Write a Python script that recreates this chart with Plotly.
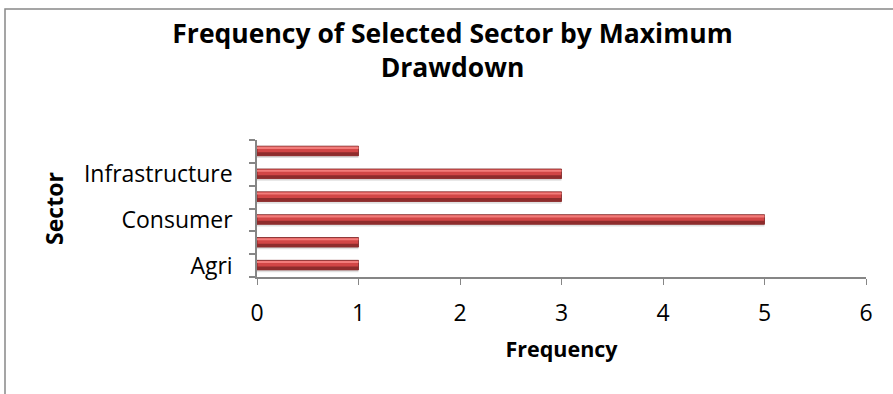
import plotly.graph_objects as go

# Data
sector_positions = [0, 1, 2, 3, 4, 5]
frequency = [1, 1, 5, 3, 3, 1]
label_positions = [0, 2, 4]
label_text = ["Agri", "Consumer", "Infrastructure"]
x_ticks = [0, 1, 2, 3, 4, 5, 6]

W, H = 893, 394
L, R, T, B = 257, 27, 140, 117
pw, ph = W - L - R, H - T - B

def px_x(p):
    return (p - L) / pw

def px_y(p):
    return (H - B - p) / ph

fig = go.Figure()
# shadow
fig.add_trace(go.Bar(y=sector_positions, x=frequency, orientation="h",
                     width=0.42, offset=-0.29, marker=dict(color="rgba(0,0,0,0.12)", line_width=0),
                     hoverinfo="skip", showlegend=False))
# base
fig.add_trace(go.Bar(y=sector_positions, x=frequency, orientation="h",
                     width=0.42, offset=-0.19, marker=dict(color="#d24646", line=dict(color="#7a2020", width=0.8)),
                     showlegend=False))
# dark lower band
fig.add_trace(go.Bar(y=sector_positions, x=frequency, orientation="h",
                     width=0.15, offset=-0.19, marker=dict(color="#8e2c2c", line_width=0),
                     hoverinfo="skip", showlegend=False))
# light top band
fig.add_trace(go.Bar(y=sector_positions, x=frequency, orientation="h",
                     width=0.09, offset=0.11, marker=dict(color="#f27c7a", line_width=0),
                     hoverinfo="skip", showlegend=False))

font_main = "Open Sans, Liberation Sans, sans-serif"

fig.update_layout(
    width=W, height=H,
    margin=dict(l=L, r=R, t=T, b=B, pad=0),
    paper_bgcolor="white", plot_bgcolor="white",
    barmode="overlay",
    title=dict(text="<b>Frequency of Selected Sector by Maximum<br>Drawdown</b>",
               x=(170 + 735) / 2 / W, xanchor="center", y=1 - 43 / H, yanchor="top",
               font=dict(family=font_main, size=26.5, color="black")),
    font=dict(family=font_main, color="black"),
    xaxis=dict(range=[0, 6], tickvals=x_ticks, ticks="outside", ticklen=6, tickcolor="#868686",
               showline=True, linecolor="#868686", linewidth=1.5, showgrid=False, zeroline=False,
               tickfont=dict(size=23), ticklabelstandoff=9,
               title=dict(text="<b>Frequency</b>", font=dict(size=21.5), standoff=15)),
    yaxis=dict(range=[-0.5, 5.5], tickvals=label_positions, ticktext=label_text, ticks="",
               showline=True, linecolor="#868686", linewidth=1.5, showgrid=False, zeroline=False,
               tickfont=dict(size=23), ticklabelstandoff=18,
               minor=dict(ticks="outside", tick0=-0.5, dtick=1, ticklen=6, tickcolor="#868686", tickwidth=1.5),
               title=dict(text="<b>Sector</b>", font=dict(size=23), standoff=14)),
    shapes=[dict(type="rect", xref="paper", yref="paper",
                 x0=px_x(5), x1=px_x(1000), y0=px_y(1000), y1=px_y(9),
                 line=dict(color="#888888", width=1.5), fillcolor="rgba(0,0,0,0)", layer="below")],
)

fig.write_html("out.html")
